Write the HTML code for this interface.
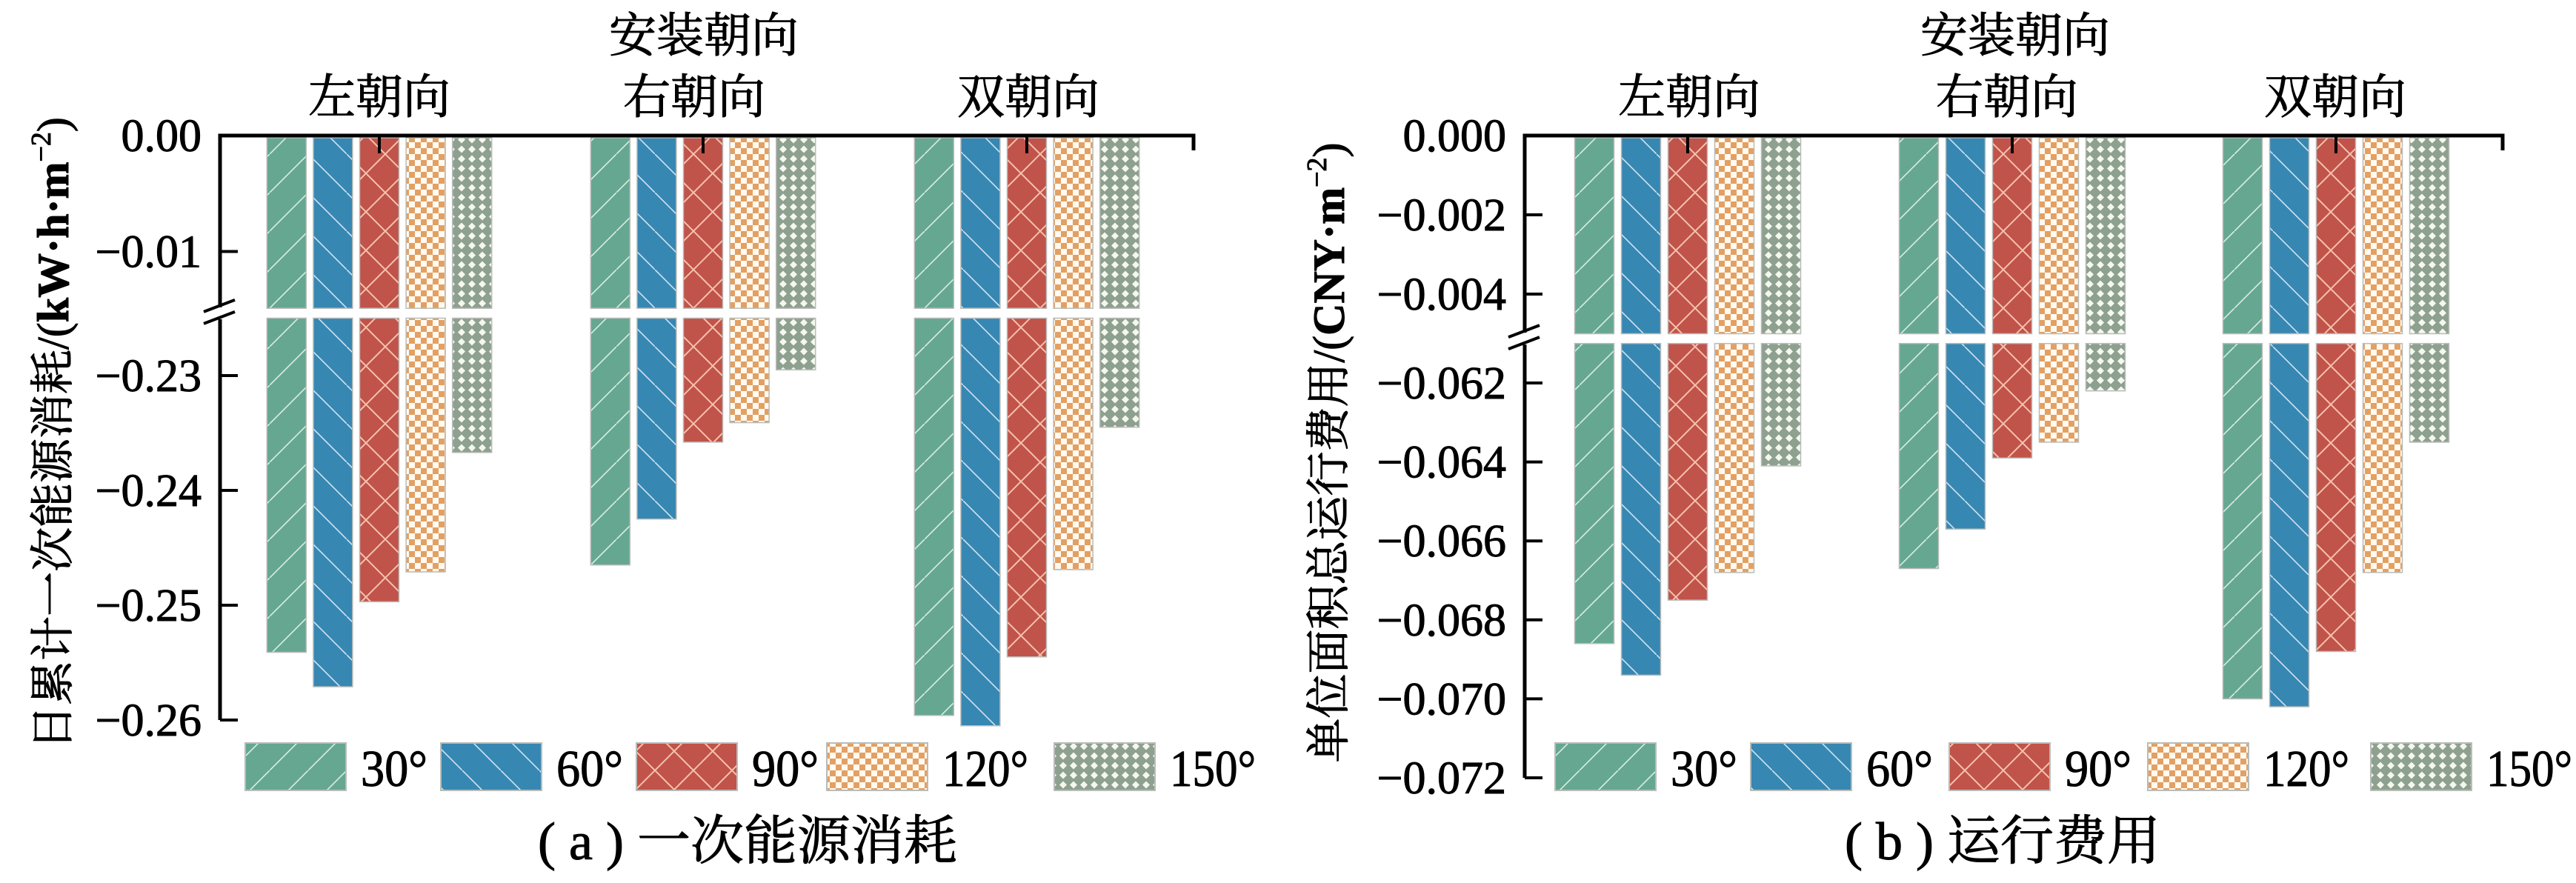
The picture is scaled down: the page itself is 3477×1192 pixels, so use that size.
<!DOCTYPE html>
<html><head><meta charset="utf-8"><style>
html,body{margin:0;padding:0;background:#fff;}
svg{display:block;}
.cjk{font-family:"Liberation Serif","Noto Serif CJK SC","Noto Sans CJK SC",serif;stroke:#000;stroke-width:1;}
.num{font-family:"Liberation Serif",serif;stroke:#000;stroke-width:1;}
</style></head><body>
<svg id="chart" width="3477" height="1192" viewBox="0 0 3477 1192" xmlns="http://www.w3.org/2000/svg">
<defs>
<pattern id="p30" patternUnits="userSpaceOnUse" width="52" height="52"><rect width="52" height="52" fill="#66a791"/><path d="M-2,54 L54,-2" stroke="#d8eee4" stroke-width="1.6"/></pattern>
<pattern id="p60" patternUnits="userSpaceOnUse" width="52" height="52"><rect width="52" height="52" fill="#3787b3"/><path d="M-2,-2 L54,54" stroke="#cfe4f1" stroke-width="1.6"/></pattern>
<pattern id="p90" patternUnits="userSpaceOnUse" width="52" height="52"><rect width="52" height="52" fill="#c0534a"/><path d="M-2,54 L54,-2 M-2,-2 L54,54" stroke="#f6c2ae" stroke-width="2"/></pattern>
<pattern id="p120" patternUnits="userSpaceOnUse" width="16" height="16"><rect width="16" height="16" fill="#fffaf2"/><rect width="8" height="8" fill="#e3a063"/><rect x="8" y="8" width="8" height="8" fill="#e3a063"/></pattern>
<pattern id="p150" patternUnits="userSpaceOnUse" width="14" height="13"><rect width="14" height="13" fill="#8ea08f"/><path d="M7,1.5 L12,6.5 L7,11.5 L2,6.5Z" fill="#f4f8ee"/></pattern>
</defs>
<g id="gA"></g>
<g id="gB"></g>
</svg>
<script>
const groups = ["左朝向","右朝向","双朝向"];
const angles = ["30°","60°","90°","120°","150°"];
const energy30 = [-0.2541,-0.2465,-0.2596];
const energy60 = [-0.2571,-0.2425,-0.2605];
const energy90 = [-0.2497,-0.2358,-0.2545];
const energy120 = [-0.2471,-0.2341,-0.2469];
const energy150 = [-0.2367,-0.2295,-0.2345];
const cost30 = [-0.0686,-0.0667,-0.0700];
const cost60 = [-0.0694,-0.0657,-0.0702];
const cost90 = [-0.0675,-0.0639,-0.0688];
const cost120 = [-0.0668,-0.0635,-0.0668];
const cost150 = [-0.0641,-0.0622,-0.0635];
const energyUpperTicks = [0, -0.01];
const energyLowerTicks = [-0.23,-0.24,-0.25,-0.26];
const costUpperTicks = [0,-0.002,-0.004];
const costLowerTicks = [-0.062,-0.064,-0.066,-0.068,-0.070,-0.072];
const energyBreak = [-0.0149, -0.225];
const costBreak = [-0.005, -0.061];

const NS="http://www.w3.org/2000/svg";
function mk(parent,tag,attrs,text){const e=document.createElementNS(NS,tag);for(const k in attrs)e.setAttribute(k,attrs[k]);if(text!==undefined)e.textContent=text;parent.appendChild(e);return e;}
const pats=["p30","p60","p90","p120","p150"];

function draw(g,cfg){
  const uY=v=>183+(-v)/cfg.uStep*cfg.uPx;
  const lY=v=>cfg.lRefY+(cfg.lRef-v)/cfg.lStep*cfg.lPx;
  const axX=cfg.axX, axR=cfg.axR;
  const series=cfg.series;
  series.forEach((arr,si)=>{
    arr.forEach((v,gi)=>{
      const cx=cfg.centers[gi]+(si-2)*cfg.pitch;
      const x=cx-cfg.bw/2;
      const yTopU=186, yBotU=uY(cfg.brk[0]);
      const r1=mk(g,'rect',{x:x,y:yTopU,width:cfg.bw,height:yBotU-yTopU,fill:'url(#'+pats[si]+')',stroke:'#b9bcb8','stroke-width':1.5});
      
      
      const yl=lY(cfg.brk[1]);
      const r2=mk(g,'rect',{x:x,y:yl,width:cfg.bw,height:Math.max(0,lY(v)-yl),fill:'url(#'+pats[si]+')',stroke:'#b9bcb8','stroke-width':1.5});
      
      
    });
  });
  const bottomY=lY(cfg.lowTicks[cfg.lowTicks.length-1]);
  const brkY=(uY(cfg.brk[0])+lY(cfg.brk[1]))/2;
  const ax=mk(g,'path',{d:`M${axX},${bottomY} L${axX},${brkY+8} M${axX},${brkY-8} L${axX},183 L${axR},183 L${axR},203`,stroke:'#000','stroke-width':5,fill:'none'});
   
  const br=mk(g,'path',{d:`M${axX-22},${brkY-2} L${axX+20},${brkY-18} M${axX-22},${brkY+14} L${axX+20},${brkY-2}`,stroke:'#000','stroke-width':4,fill:'none'});
   
  cfg.centers.forEach(c=>{const t=mk(g,'line',{x1:c,y1:183,x2:c,y2:207,stroke:'#000','stroke-width':4});});
  const tick=(y,lab)=>{
    const t=mk(g,'line',{x1:axX,y1:y,x2:axX+24,y2:y,stroke:'#000','stroke-width':4});
     
    const tx=mk(g,'text',{x:cfg.labR,y:y+21,'text-anchor':'end','font-size':62,class:'num',fill:'#000'},lab);
     
  };
  cfg.upTicks.forEach(v=>tick(uY(v),(v===0?'':'−')+Math.abs(v).toFixed(cfg.dec)));
  cfg.lowTicks.forEach(v=>tick(lY(v),'−'+Math.abs(v).toFixed(cfg.dec)));
  const tt=mk(g,'text',{x:cfg.titleX,y:70,'text-anchor':'middle','font-size':64,class:'cjk'},'安装朝向');
   
  groups.forEach((s,i)=>{const t=mk(g,'text',{x:cfg.labCenters[i],y:153,'text-anchor':'middle','font-size':64,class:'cjk'},s);});
  const yt=mk(g,'text',{x:0,y:0,'text-anchor':'middle','font-size':60,class:'cjk',transform:`translate(${cfg.ytX},${cfg.ytY}) rotate(-90)`});
   
  yt.innerHTML=cfg.ytitle;
  const cap=mk(g,'text',{x:cfg.capX,y:1160,'text-anchor':'middle','font-size':72,class:'cjk'},cfg.cap);
   
  angles.forEach((a,i)=>{
    const r=mk(g,'rect',{x:cfg.legX[i],y:1003,width:136,height:64,fill:'url(#'+pats[i]+')',stroke:'#b9bcb8','stroke-width':2});
     
    const t=mk(g,'text',{x:cfg.legX[i]+156,y:1061,'font-size':70,class:'num',textLength:(a.length===3?90:116),lengthAdjust:'spacingAndGlyphs'},a);
     
  });
}
draw(document.getElementById('gA'),{
  series:[energy30,energy60,energy90,energy120,energy150],
  uStep:0.01,uPx:156.5,lRef:-0.23,lRefY:507,lStep:0.01,lPx:155,brk:energyBreak,
  upTicks:energyUpperTicks,lowTicks:energyLowerTicks,dec:2,
  axX:297,axR:1611,centers:[512,949,1386],labCenters:[512,937,1388],pitch:62.6,bw:53,labR:272,
  titleX:950,ytX:92,ytY:585,capX:1009,cap:'( a ) 一次能源消耗',
  ytitle:'日累计一次能源消耗/(<tspan font-weight="bold" font-family="Liberation Serif">kW·h·m</tspan><tspan font-size="38" dy="-24">−2</tspan><tspan dy="24">)</tspan>',
  legX:[331,595,859,1116,1423]
});
draw(document.getElementById('gB'),{
  series:[cost30,cost60,cost90,cost120,cost150],
  uStep:0.002,uPx:107,lRef:-0.062,lRefY:517,lStep:0.002,lPx:106.6,brk:costBreak,
  upTicks:costUpperTicks,lowTicks:costLowerTicks,dec:3,
  axX:2058,axR:3378,centers:[2278,2716,3153],labCenters:[2280,2709,3152],pitch:63,bw:53,labR:2033,
  titleX:2720,ytX:1814,ytY:611,capX:2703,cap:'( b ) 运行费用',
  ytitle:'单位面积总运行费用/(<tspan font-weight="bold" font-family="Liberation Serif">CNY·m</tspan><tspan font-size="38" dy="-24">−2</tspan><tspan dy="24">)</tspan>',
  legX:[2099,2363,2631,2899,3200]
});
</script>
</body></html>
